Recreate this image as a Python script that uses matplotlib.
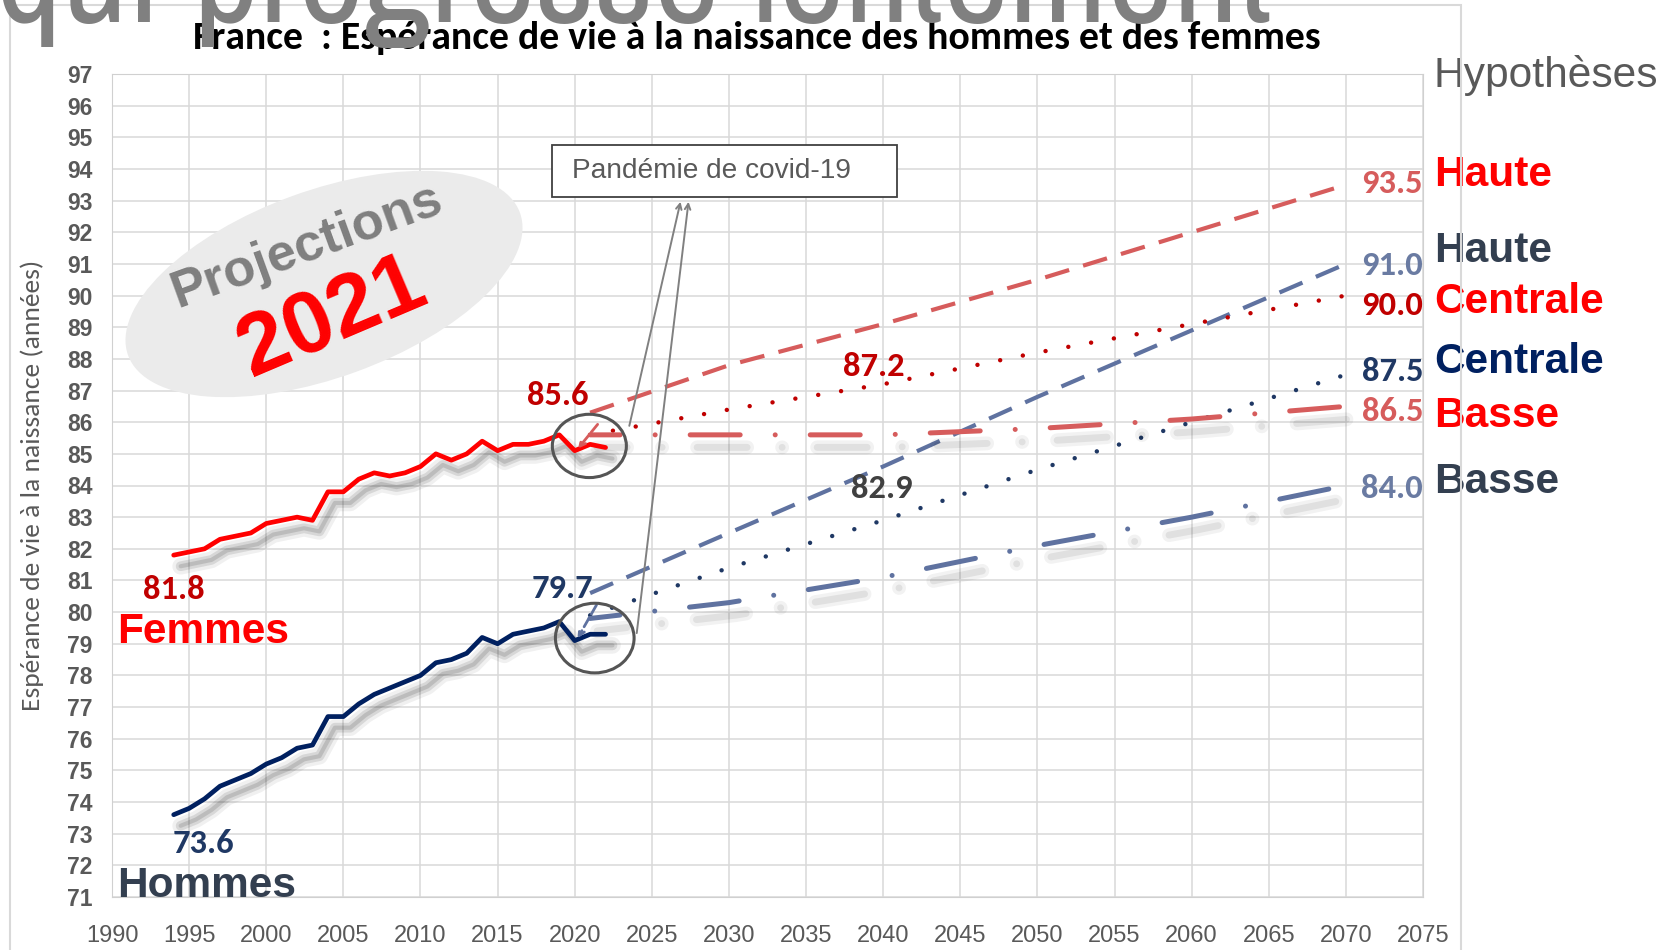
import matplotlib
matplotlib.use("Agg")
import matplotlib.pyplot as plt
import matplotlib.patheffects as pe
from matplotlib.patches import Ellipse, Rectangle
from matplotlib.transforms import IdentityTransform
from matplotlib import font_manager

# --- données (INSEE, espérance de vie à la naissance) ---
annees = list(range(1994, 2023))
femmes = [81.8, 81.9, 82.0, 82.3, 82.4, 82.5, 82.8, 82.9, 83.0, 82.9,
          83.8, 83.8, 84.2, 84.4, 84.3, 84.4, 84.6, 85.0, 84.8, 85.0,
          85.4, 85.1, 85.3, 85.3, 85.4, 85.6, 85.1, 85.3, 85.2]
hommes = [73.6, 73.8, 74.1, 74.5, 74.7, 74.9, 75.2, 75.4, 75.7, 75.8,
          76.7, 76.7, 77.1, 77.4, 77.6, 77.8, 78.0, 78.4, 78.5, 78.7,
          79.2, 79.0, 79.3, 79.4, 79.5, 79.7, 79.1, 79.3, 79.3]

proj_annees = [2021, 2030, 2040, 2050, 2060, 2070]
f_haute = [86.3, 87.8, 89.1, 90.5, 92.0, 93.5]
f_centrale = [85.6, 86.4, 87.2, 88.2, 89.1, 90.0]
f_basse = [85.6, 85.6, 85.6, 85.8, 86.1, 86.5]
h_haute = [80.6, 82.5, 84.6, 86.8, 88.9, 91.0]
h_centrale = [79.9, 81.4, 82.9, 84.5, 86.0, 87.5]
h_basse = [79.8, 80.3, 81.1, 82.1, 83.0, 84.0]

x_ticks = list(range(1990, 2080, 5))
y_ticks = list(range(71, 98))

titre = "France  : Espérance de vie à la naissance des hommes et des femmes"
ylab = "Espérance de vie à la naissance (années)"

# couleurs
ROUGE = "#FF0000"
ROUGE_F = "#C00000"
ROUGE_C = "#D65C5C"
MARINE = "#002060"
MARINE_2 = "#1F3864"
ARDOISE = "#5F72A0"
SOMBRE = "#333F50"
GRIS = "#595959"

names = {f.name for f in font_manager.fontManager.ttflist}


def pick(options):
    for o in options:
        if o in names:
            return o
    return "DejaVu Sans"


ARIAL = pick(["Liberation Sans", "Arimo"])
CALIBRI = pick(["Carlito", "Roboto Condensed", "Liberation Sans Narrow", "Open Sans", "Liberation Sans"])
NARROW = pick(["Liberation Sans Narrow", "Archivo Narrow", "PT Sans Narrow", "Roboto Condensed",
               "Asap Condensed", "Liberation Sans"])

fig = plt.figure(figsize=(16.73, 9.5), dpi=100)
ax = fig.add_axes([112 / 1673, 53 / 950, (1423 - 112) / 1673, (897 - 74) / 950])
r = fig.canvas.get_renderer()


def size_for(text, family, weight, width):
    t = fig.text(0, 0, text, family=family, fontweight=weight, fontsize=10)
    bb = t.get_window_extent(r)
    t.remove()
    return 10 * width / bb.width


ax.set_xlim(1990, 2075)
ax.set_ylim(71, 97)
ax.set_xticks(x_ticks)
ax.set_yticks(y_ticks)
ax.grid(True, color="#D9D9D9", lw=1.1)
ax.set_axisbelow(True)
for s in ax.spines.values():
    s.set_color("#D0D0D0")
ax.tick_params(axis="both", length=0, labelcolor=GRIS)
ax.tick_params(axis="x", pad=20, labelsize=17)
ax.tick_params(axis="y", pad=14, labelsize=16.5)
for lbl in ax.get_xticklabels():
    lbl.set_fontfamily(ARIAL)
for lbl in ax.get_yticklabels():
    lbl.set_fontfamily(ARIAL)
    lbl.set_fontweight("bold")

ombre = [pe.SimpleLineShadow(offset=(5, -8), shadow_color="k", alpha=0.06, linewidth=12),
         pe.SimpleLineShadow(offset=(5, -8), shadow_color="k", alpha=0.10, linewidth=7),
         pe.SimpleLineShadow(offset=(5, -8), shadow_color="k", alpha=0.12, linewidth=3),
         pe.Normal()]
ombre_l = [pe.SimpleLineShadow(offset=(5, -9), shadow_color="k", alpha=0.05, linewidth=10),
           pe.SimpleLineShadow(offset=(5, -9), shadow_color="k", alpha=0.07, linewidth=5),
           pe.Normal()]

# séries observées
ax.plot(annees, femmes, color=ROUGE, lw=3.4, zorder=4, path_effects=ombre,
        solid_capstyle="round", solid_joinstyle="round")
ax.plot(annees, hommes, color=MARINE, lw=3.4, zorder=4, path_effects=ombre,
        solid_capstyle="round", solid_joinstyle="round")

# projections
ax.plot(proj_annees, f_haute, color=ROUGE_C, lw=3, ls=(0, (6, 3.5)), zorder=3)
ax.plot(proj_annees, h_haute, color=ARDOISE, lw=3, ls=(0, (6, 3.5)), zorder=3)
ax.plot(proj_annees, f_centrale, color=ROUGE_F, lw=3.2, ls=(0, (0.01, 5.2)),
        dash_capstyle="round", zorder=3)
ax.plot(proj_annees, h_centrale, color=MARINE_2, lw=3.2, ls=(0, (0.01, 5.2)),
        dash_capstyle="round", zorder=3)
ax.plot(proj_annees, f_basse, color=ROUGE_C, lw=3.6, ls=(4, (10, 7, 0.01, 7)),
        dash_capstyle="round", zorder=3, path_effects=ombre_l)
ax.plot(proj_annees, h_basse, color=ARDOISE, lw=3.6, ls=(4, (10, 7, 0.01, 7)),
        dash_capstyle="round", zorder=3, path_effects=ombre_l)

# petites flèches vers le creux de 2020
ax.annotate("", xy=(2020.1, femmes[26]), xytext=(proj_annees[0] + 0.6, f_haute[0] - 0.3),
            arrowprops=dict(arrowstyle="->", color=ROUGE_C, lw=2, ls="--"), zorder=5)
ax.annotate("", xy=(2020.1, hommes[26]), xytext=(proj_annees[0] + 0.5, h_haute[0] - 0.3),
            arrowprops=dict(arrowstyle="->", color=ARDOISE, lw=2, ls="--"), zorder=5)

# cercles covid
ax.add_patch(Ellipse((2020.95, 85.25), 4.8, 2.0, fill=False, edgecolor="#555555",
                     lw=2.2, zorder=6))
ax.add_patch(Ellipse((2021.3, 79.18), 5.1, 2.2, fill=False, edgecolor="#555555",
                     lw=2.2, zorder=6))

# boîte covid
ax.add_patch(Rectangle((2018.55, 93.11), 22.35, 1.65, facecolor="white",
                       edgecolor="#404040", lw=1.3, zorder=6, clip_on=False))
ax.text(2028.9, 93.94, "Pandémie de covid-19", ha="center", va="center",
        fontsize=size_for("Pandémie de covid-19", ARIAL, "normal", 280), color=GRIS,
        family=ARIAL, zorder=7)
ax.annotate("", xy=(2026.9, 93.05), xytext=(2023.5, 85.8),
            arrowprops=dict(arrowstyle="->", color="#808080", lw=1.4), zorder=6)
ax.annotate("", xy=(2027.4, 93.05), xytext=(2024.0, 79.25),
            arrowprops=dict(arrowstyle="->", color="#808080", lw=1.4), zorder=6)

# étiquettes de valeurs
fs_val = size_for("85.6", CALIBRI, "bold", 62)
lab_kw = dict(family=CALIBRI, fontweight="bold", fontsize=fs_val, ha="center",
              va="center", zorder=7)
ax.text(1994.0, 80.7, f"{femmes[0]:.1f}", color=ROUGE_F, **lab_kw)
ax.text(1995.9, 72.7, f"{hommes[0]:.1f}", color=MARINE_2, **lab_kw)
ax.text(2018.9, 86.83, f"{max(femmes):.1f}", color=ROUGE_F, **lab_kw)
ax.text(2019.2, 80.76, f"{max(hommes):.1f}", color=MARINE_2, **lab_kw)
ax.text(2039.4, 87.77, f"{f_centrale[2]:.1f}", color=ROUGE_F, **lab_kw)
ax.text(2039.9, 83.92, f"{h_centrale[2]:.1f}", color="#404040", **lab_kw)

fs_big = size_for("Haute", ARIAL, "bold", 117)
big_kw = dict(family=ARIAL, fontweight="bold", fontsize=fs_big, ha="left",
              va="center", zorder=7)
ax.text(1990.3, 79.37, "Femmes", color=ROUGE, **big_kw)
ax.text(1990.3, 71.34, "Hommes", color=SOMBRE, **big_kw)

# hypothèses à droite
fin = [(f_haute[-1], 93.55, ROUGE_C), (h_haute[-1], 90.95, "#6A7BA2"),
       (f_centrale[-1], 89.7, ROUGE_F), (h_centrale[-1], 87.6, MARINE_2),
       (f_basse[-1], 86.35, ROUGE_C), (h_basse[-1], 83.9, "#6A7BA2")]
for v, y, c in fin:
    ax.text(2075.0, y, f"{v:.1f}", color=c, family=CALIBRI, fontweight="bold",
            fontsize=fs_val, ha="right", va="center", clip_on=False, zorder=7)
hyp = [("Haute", 93.8, ROUGE), ("Haute", 91.4, SOMBRE), ("Centrale", 89.8, ROUGE),
       ("Centrale", 87.9, MARINE), ("Basse", 86.2, ROUGE), ("Basse", 84.1, SOMBRE)]
for t, y, c in hyp:
    ax.text(2075.7, y, t, color=c, family=ARIAL, fontweight="bold", fontsize=fs_big,
            ha="left", va="center", clip_on=False, zorder=7)
ax.text(2075.7, 96.95, "Hypothèses", color=GRIS, family=ARIAL,
        fontsize=size_for("Hypothèses", ARIAL, "normal", 224),
        ha="left", va="center", clip_on=False)

# bulle « Projections 2021 »
ax.add_patch(Ellipse((324, 950 - 284), 417, 187, angle=20, transform=IdentityTransform(),
                     facecolor="#EBEBEB", edgecolor="none", zorder=1.5, clip_on=False))
ax.text(307, 950 - 246, "Projections", transform=IdentityTransform(), rotation=20,
        rotation_mode="anchor", ha="center", va="center",
        fontsize=size_for("Projections", ARIAL, "bold", 285),
        fontweight="bold", color="#7F7F7F", family=ARIAL, zorder=2)
ax.text(332, 950 - 318, "2021", transform=IdentityTransform(), rotation=23,
        rotation_mode="anchor", ha="center", va="center", fontsize=63,
        fontweight="bold", color=ROUGE, family=ARIAL, zorder=2)

# cadre du graphique
fig.add_artist(Rectangle((10 / 1673, -0.05), 1451 / 1673, 1.05 - 5 / 950,
                         transform=fig.transFigure, fill=False,
                         edgecolor="#D9D9D9", lw=1.5))

fig.text(32 / 1673, 1 - 485 / 950, ylab, rotation=90, ha="center", va="center",
         color=GRIS, family=CALIBRI, fontsize=size_for(ylab, CALIBRI, "normal", 451))

fig.text(757 / 1673, 1 - 38 / 950, titre, ha="center", va="center",
         family=CALIBRI, fontweight="bold",
         fontsize=size_for(titre, CALIBRI, "bold", 1126), zorder=2)
fig.text(-4 / 1673, 1 - 22 / 950, "qui progresse lentement", ha="left",
         va="baseline", family=NARROW, fontweight="bold", color="#808080",
         fontsize=size_for("qui progresse lentement", NARROW, "bold", 1285),
         zorder=10)

fig.savefig("out.png", dpi=100)
